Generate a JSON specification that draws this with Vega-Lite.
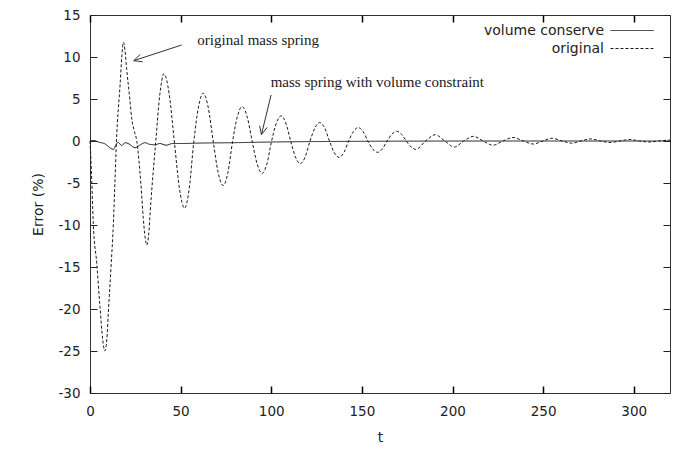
{
  "$schema": "https://vega.github.io/schema/vega-lite/v6.json",
  "width": 580,
  "height": 378,
  "autosize": {"type": "none"},
  "padding": {"left": 90, "top": 15, "right": 10, "bottom": 56},
  "background": "white",
  "datasets": {
    "curves": [
      {"s": "volume conserve", "t": 0, "v": 0},
      {"s": "volume conserve", "t": 2, "v": 0.05},
      {"s": "volume conserve", "t": 5, "v": -0.15},
      {"s": "volume conserve", "t": 8.3, "v": -0.35},
      {"s": "volume conserve", "t": 11, "v": -0.8},
      {"s": "volume conserve", "t": 12.9, "v": -1.0},
      {"s": "volume conserve", "t": 14.2, "v": -0.5},
      {"s": "volume conserve", "t": 15.5, "v": -0.15},
      {"s": "volume conserve", "t": 17.5, "v": -0.55},
      {"s": "volume conserve", "t": 19.3, "v": -0.2},
      {"s": "volume conserve", "t": 21.5, "v": -0.35},
      {"s": "volume conserve", "t": 24.8, "v": -0.8},
      {"s": "volume conserve", "t": 27.5, "v": -0.5},
      {"s": "volume conserve", "t": 30.3, "v": -0.2},
      {"s": "volume conserve", "t": 33, "v": -0.4},
      {"s": "volume conserve", "t": 35.9, "v": -0.45},
      {"s": "volume conserve", "t": 38.5, "v": -0.3},
      {"s": "volume conserve", "t": 42, "v": -0.5},
      {"s": "volume conserve", "t": 45.5, "v": -0.3},
      {"s": "volume conserve", "t": 50, "v": -0.3},
      {"s": "volume conserve", "t": 60, "v": -0.25},
      {"s": "volume conserve", "t": 80, "v": -0.2},
      {"s": "volume conserve", "t": 100, "v": -0.12},
      {"s": "volume conserve", "t": 130, "v": -0.06},
      {"s": "volume conserve", "t": 170, "v": -0.02},
      {"s": "volume conserve", "t": 220, "v": 0},
      {"s": "volume conserve", "t": 320, "v": 0},
      {"s": "original", "t": 0, "v": 0},
      {"s": "original", "t": 0.5, "v": -2.2},
      {"s": "original", "t": 0.94, "v": -4.6},
      {"s": "original", "t": 1.8, "v": -9.8},
      {"s": "original", "t": 3.7, "v": -14.5},
      {"s": "original", "t": 5.5, "v": -19.7},
      {"s": "original", "t": 7.0, "v": -23.6},
      {"s": "original", "t": 8.2, "v": -25.0},
      {"s": "original", "t": 9.3, "v": -23.6},
      {"s": "original", "t": 10.1, "v": -20.5},
      {"s": "original", "t": 11.6, "v": -15.0},
      {"s": "original", "t": 12.9, "v": -9.8},
      {"s": "original", "t": 13.8, "v": -4.6},
      {"s": "original", "t": 14.6, "v": 0},
      {"s": "original", "t": 16.6, "v": 6.7},
      {"s": "original", "t": 17.6, "v": 10.2},
      {"s": "original", "t": 18.4, "v": 11.75},
      {"s": "original", "t": 19.3, "v": 10.8},
      {"s": "original", "t": 20.2, "v": 8.65},
      {"s": "original", "t": 22.1, "v": 4.7},
      {"s": "original", "t": 23.0, "v": 2.7},
      {"s": "original", "t": 24.3, "v": 1.3},
      {"s": "original", "t": 25.8, "v": 0},
      {"s": "original", "t": 28.1, "v": -5.2},
      {"s": "original", "t": 29.4, "v": -9.2},
      {"s": "original", "t": 30.4, "v": -11.5},
      {"s": "original", "t": 31.3, "v": -12.4},
      {"s": "original", "t": 32.3, "v": -11.3},
      {"s": "original", "t": 33.5, "v": -7.5},
      {"s": "original", "t": 36.3, "v": 0},
      {"s": "original", "t": 38.5, "v": 5.5},
      {"s": "original", "t": 40.8, "v": 8.0},
      {"s": "original", "t": 43.65, "v": 5.66},
      {"s": "original", "t": 46.5, "v": 0},
      {"s": "original", "t": 49.35, "v": -5.66},
      {"s": "original", "t": 52.2, "v": -8.0},
      {"s": "original", "t": 54.75, "v": -5.66},
      {"s": "original", "t": 57.3, "v": 0},
      {"s": "original", "t": 59.85, "v": 4.03},
      {"s": "original", "t": 62.4, "v": 5.7},
      {"s": "original", "t": 65.2, "v": 4.03},
      {"s": "original", "t": 67.95, "v": 0},
      {"s": "original", "t": 70.7, "v": -3.75},
      {"s": "original", "t": 73.5, "v": -5.3},
      {"s": "original", "t": 76.1, "v": -3.75},
      {"s": "original", "t": 78.7, "v": 0},
      {"s": "original", "t": 81.3, "v": 2.9},
      {"s": "original", "t": 83.9, "v": 4.1},
      {"s": "original", "t": 86.7, "v": 2.9},
      {"s": "original", "t": 89.45, "v": 0},
      {"s": "original", "t": 92.2, "v": -2.72},
      {"s": "original", "t": 95.0, "v": -3.85},
      {"s": "original", "t": 97.6, "v": -2.72},
      {"s": "original", "t": 100.2, "v": 0},
      {"s": "original", "t": 102.8, "v": 2.12},
      {"s": "original", "t": 105.4, "v": 3.0},
      {"s": "original", "t": 108.05, "v": 2.12},
      {"s": "original", "t": 110.7, "v": 0},
      {"s": "original", "t": 113.35, "v": -1.91},
      {"s": "original", "t": 116.0, "v": -2.7},
      {"s": "original", "t": 118.7, "v": -1.91},
      {"s": "original", "t": 121.4, "v": 0},
      {"s": "original", "t": 124.1, "v": 1.56},
      {"s": "original", "t": 126.8, "v": 2.2},
      {"s": "original", "t": 129.45, "v": 1.56},
      {"s": "original", "t": 132.1, "v": 0},
      {"s": "original", "t": 134.75, "v": -1.38},
      {"s": "original", "t": 137.4, "v": -1.95},
      {"s": "original", "t": 140.05, "v": -1.38},
      {"s": "original", "t": 142.7, "v": 0},
      {"s": "original", "t": 145.35, "v": 1.13},
      {"s": "original", "t": 148.0, "v": 1.6},
      {"s": "original", "t": 150.65, "v": 1.13},
      {"s": "original", "t": 153.3, "v": 0},
      {"s": "original", "t": 155.95, "v": -0.95},
      {"s": "original", "t": 158.6, "v": -1.35},
      {"s": "original", "t": 161.25, "v": -0.95},
      {"s": "original", "t": 163.9, "v": 0},
      {"s": "original", "t": 166.55, "v": 0.81},
      {"s": "original", "t": 169.2, "v": 1.15},
      {"s": "original", "t": 171.85, "v": 0.81},
      {"s": "original", "t": 174.5, "v": 0},
      {"s": "original", "t": 177.15, "v": -0.71},
      {"s": "original", "t": 179.8, "v": -1.0},
      {"s": "original", "t": 185.15, "v": 0},
      {"s": "original", "t": 190.5, "v": 0.75},
      {"s": "original", "t": 195.75, "v": 0},
      {"s": "original", "t": 201.0, "v": -0.72},
      {"s": "original", "t": 206.25, "v": 0},
      {"s": "original", "t": 211.5, "v": 0.55},
      {"s": "original", "t": 216.9, "v": 0},
      {"s": "original", "t": 222.3, "v": -0.5},
      {"s": "original", "t": 227.85, "v": 0},
      {"s": "original", "t": 233.4, "v": 0.42},
      {"s": "original", "t": 239.0, "v": 0},
      {"s": "original", "t": 244.6, "v": -0.36},
      {"s": "original", "t": 249.8, "v": 0},
      {"s": "original", "t": 255.0, "v": 0.33},
      {"s": "original", "t": 260.4, "v": 0},
      {"s": "original", "t": 265.8, "v": -0.26},
      {"s": "original", "t": 271.0, "v": 0},
      {"s": "original", "t": 276.2, "v": 0.25},
      {"s": "original", "t": 281.6, "v": 0},
      {"s": "original", "t": 287.0, "v": -0.18},
      {"s": "original", "t": 292.4, "v": 0},
      {"s": "original", "t": 297.8, "v": 0.18},
      {"s": "original", "t": 303.15, "v": 0},
      {"s": "original", "t": 308.5, "v": -0.12},
      {"s": "original", "t": 313.85, "v": 0},
      {"s": "original", "t": 319.2, "v": 0.1},
      {"s": "original", "t": 320, "v": 0.09}
    ],
    "notes": [
      {"t": 59.2, "v": 11.43, "label": "original mass spring"},
      {"t": 99.7, "v": 6.46, "label": "mass spring with volume constraint"}
    ],
    "arrows": [
      {"t": 50.6, "v": 11.43, "t2": 24.1, "v2": 9.56},
      {"t": 24.1, "v": 9.56, "t2": 27.73, "v2": 10.3},
      {"t": 24.1, "v": 9.56, "t2": 29.04, "v2": 9.43},
      {"t": 99.9, "v": 5.48, "t2": 94.6, "v2": 0.77},
      {"t": 94.6, "v": 0.77, "t2": 93.6, "v2": 1.82},
      {"t": 94.6, "v": 0.77, "t2": 97.7, "v2": 1.61}
    ]
  },
  "config": {
    "view": {"stroke": "#333", "strokeWidth": 1},
    "axis": {
      "grid": false,
      "labelFont": "DejaVu Sans",
      "labelFontSize": 13.5,
      "labelColor": "#222",
      "titleFont": "DejaVu Sans",
      "titleFontSize": 14,
      "titleFontWeight": "normal",
      "titleColor": "#222",
      "domain": false,
      "tickColor": "#222",
      "tickWidth": 1,
      "tickSize": 7,
      "offset": -7,
      "zindex": 1,
      "labelFlush": false
    }
  },
  "layer": [
    {
      "data": {"name": "curves"},
      "mark": {"type": "line", "interpolate": "monotone", "strokeWidth": 1, "color": "#1a1a1a"},
      "encoding": {
        "x": {
          "field": "t", "type": "quantitative",
          "scale": {"domain": [0, 320], "nice": false, "zero": false},
          "axis": {"orient": "bottom", "values": [0, 50, 100, 150, 200, 250, 300], "title": "t", "offset": -7, "tickSize": 7, "tickWidth": 1.5, "tickColor": "#000", "zindex": 1, "labelPadding": 11, "titlePadding": 13, "labelExpr": "'' + datum.value"}
        },
        "y": {
          "field": "v", "type": "quantitative",
          "scale": {"domain": [-30, 15], "nice": false, "zero": false},
          "axis": {"orient": "left", "values": [-30, -25, -20, -15, -10, -5, 0, 5, 10, 15], "title": "Error (%)", "offset": -7, "tickSize": 7, "zindex": 1, "labelPadding": 10, "titlePadding": 12, "labelExpr": "'' + datum.value"}
        },
        "strokeDash": {
          "field": "s", "type": "nominal",
          "scale": {"domain": ["volume conserve", "original"], "range": [[1, 0], [3, 2]]},
          "legend": {
            "title": null,
            "orient": "none",
            "legendX": 533.6,
            "legendY": 7,
            "symbolType": "M-2.7,0H2.7",
            "symbolSize": 256,
            "symbolStrokeWidth": 1,
            "symbolStrokeColor": "#1a1a1a",
            "symbolFillColor": "transparent",
            "labelAlign": "right",
            "labelOffset": -36.6,
            "labelFont": "DejaVu Sans",
            "labelFontSize": 14,
            "labelColor": "#222",
            "rowPadding": 2,
            "padding": 0
          }
        }
      }
    },
    {
      "data": {"name": "curves"},
      "mark": {"type": "line", "opacity": 0},
      "encoding": {
        "x": {
          "field": "t", "type": "quantitative",
          "scale": {"domain": [0, 320], "nice": false, "zero": false},
          "axis": {"orient": "top", "values": [0, 50, 100, 150, 200, 250, 300], "title": null, "labels": false, "offset": -7, "tickSize": 7, "tickWidth": 1.5, "tickColor": "#000", "zindex": 1}
        },
        "y": {
          "field": "v", "type": "quantitative",
          "scale": {"domain": [-30, 15], "nice": false, "zero": false},
          "axis": {"orient": "right", "values": [-30, -25, -20, -15, -10, -5, 0, 5, 10, 15], "title": null, "labels": false, "offset": -7, "tickSize": 7, "zindex": 1}
        }
      }
    },
    {
      "data": {"name": "notes"},
      "mark": {"type": "text", "align": "left", "baseline": "alphabetic", "font": "Liberation Serif", "fontSize": 15, "color": "#1a1a1a"},
      "encoding": {
        "x": {"field": "t", "type": "quantitative", "scale": {"domain": [0, 320], "nice": false, "zero": false}, "axis": null},
        "y": {"field": "v", "type": "quantitative", "scale": {"domain": [-30, 15], "nice": false, "zero": false}, "axis": null},
        "text": {"field": "label"}
      }
    },
    {
      "data": {"name": "arrows"},
      "mark": {"type": "rule", "strokeWidth": 1, "color": "#333"},
      "encoding": {
        "x": {"field": "t", "type": "quantitative", "scale": {"domain": [0, 320], "nice": false, "zero": false}, "axis": null},
        "y": {"field": "v", "type": "quantitative", "scale": {"domain": [-30, 15], "nice": false, "zero": false}, "axis": null},
        "x2": {"field": "t2"},
        "y2": {"field": "v2"}
      }
    }
  ],
  "resolve": {"axis": {"x": "independent", "y": "independent"}}
}
